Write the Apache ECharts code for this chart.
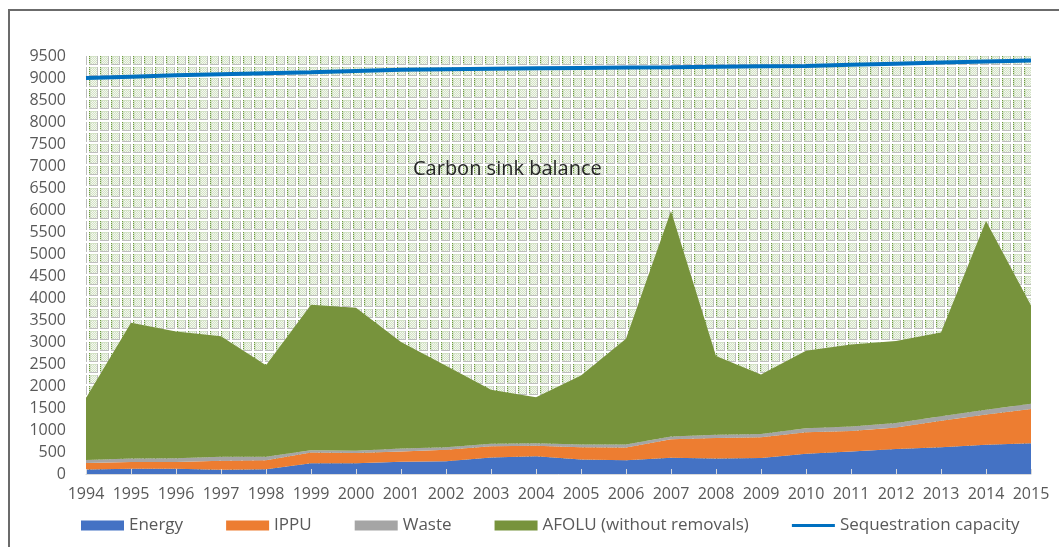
<!DOCTYPE html>
<html>
<head>
<meta charset="utf-8">
<script src="https://cdn.jsdelivr.net/npm/echarts@6/dist/echarts.min.js"></script>
<style>
html, body { margin: 0; padding: 0; background: #fff; }
#chart { width: 1059px; height: 547px; }
</style>
</head>
<body>
<div id="chart"></div>
<script>
var years = ['1994','1995','1996','1997','1998','1999','2000','2001','2002','2003','2004',
             '2005','2006','2007','2008','2009','2010','2011','2012','2013','2014','2015'];
var energy = [100,120,120,95,110,245,245,280,290,375,405,330,315,370,355,365,460,510,570,610,665,700];
var ippu   = [150,150,150,205,200,245,235,230,260,255,235,280,285,420,465,470,490,470,485,600,685,780];
var waste  = [70,80,90,90,80,50,50,70,60,60,60,60,70,60,70,75,90,100,105,100,110,115];
var afolu  = [1410,3090,2880,2740,2080,3305,3250,2420,1850,1225,1045,1570,2405,5125,1790,1350,1760,1865,1860,1905,4290,2235];
var sequestration = [9000,9030,9060,9085,9110,9130,9160,9185,9200,9210,9220,9230,9240,9245,9255,9265,9275,9300,9325,9350,9375,9400];

// dotted tile that Excel uses for the "carbon sink balance" fill
function makeTile() {
    var c = document.createElement('canvas');
    c.width = 11; c.height = 11;
    var g = c.getContext('2d');
    g.fillStyle = '#ffffff';
    g.fillRect(0, 0, 11, 11);
    g.fillStyle = '#d3e2c6';
    g.fillRect(1, 1, 8, 8);
    g.fillStyle = '#f4f8f0';
    for (var yy = 2; yy < 9; yy++) {
        for (var xx = 3; xx < 9; xx++) {
            if ((xx + yy) % 2 === 0) g.fillRect(xx, yy, 1, 1);
        }
    }
    g.fillStyle = '#6a9a3a';
    for (var y = 1; y < 9; y += 2) g.fillRect(1, y, 1, 1);
    g.fillStyle = '#bdbdbd';
    g.fillRect(1, 9, 9, 1);
    g.fillRect(9, 1, 1, 9);
    return c;
}

var chart = echarts.init(document.getElementById('chart'));
var font = '"Open Sans", Lato, sans-serif';

function areaSeries(name, data, color) {
    return {
        name: name,
        type: 'line',
        stack: 'total',
        data: data,
        symbol: 'none',
        lineStyle: { width: 0 },
        itemStyle: { color: color },
        areaStyle: { color: color, opacity: 1 },
        z: 2
    };
}

var option = {
    animation: false,
    textStyle: { fontFamily: font },
    grid: {
        left: 86, right: 28, top: 56, bottom: 73,
        show: true,
        borderWidth: 0,
        backgroundColor: { image: makeTile(), repeat: 'repeat' }
    },
    graphic: [
        {
            type: 'rect',
            shape: { x: 9, y: 10, width: 1100, height: 600 },
            style: { fill: 'none', stroke: '#6b6b6b', lineWidth: 2 },
            silent: true
        },
        {
            type: 'text',
            left: 413, top: 159,
            style: { text: 'Carbon sink balance', fill: '#262626', font: '20px ' + font }
        }
    ],
    legend: {
        left: 76, top: 512,
        itemWidth: 43, itemHeight: 10,
        itemGap: 43,
        textStyle: { fontSize: 17, color: '#595959', fontFamily: font },
        data: [
            { name: 'Energy', icon: 'rect' },
            { name: 'IPPU', icon: 'rect' },
            { name: 'Waste', icon: 'rect' },
            { name: 'AFOLU (without removals)', icon: 'rect' },
            { name: 'Sequestration capacity', icon: 'path://M0,0 L0,0 M0,3.5 L43,3.5 L43,6.5 L0,6.5 Z M43,10 L43,10' }
        ]
    },
    xAxis: {
        type: 'category',
        data: years,
        boundaryGap: false,
        axisLine: { lineStyle: { color: '#d9d9d9', width: 1 } },
        axisTick: { show: true, inside: true, length: 5, interval: 0, lineStyle: { color: '#d9d9d9' } },
        axisLabel: { color: '#595959', fontSize: 16, margin: 12, interval: 0, fontFamily: font },
        z: 5
    },
    yAxis: {
        type: 'value',
        min: 0, max: 9500, interval: 500,
        axisLine: { show: false },
        axisTick: { show: false },
        splitLine: { show: false },
        axisLabel: {
            color: '#595959', fontSize: 16, margin: 20, fontFamily: font,
            formatter: function (v) { return String(v); }
        }
    },
    series: [
        areaSeries('Energy', energy, '#4472C4'),
        areaSeries('IPPU', ippu, '#ED7D31'),
        areaSeries('Waste', waste, '#A5A5A5'),
        areaSeries('AFOLU (without removals)', afolu, '#77933C'),
        {
            name: 'Sequestration capacity',
            type: 'line',
            data: sequestration,
            symbol: 'none',
            lineStyle: { color: '#0070C0', width: 4 },
            itemStyle: { color: '#0070C0' },
            z: 4
        }
    ]
};
chart.setOption(option);
</script>
</body>
</html>
